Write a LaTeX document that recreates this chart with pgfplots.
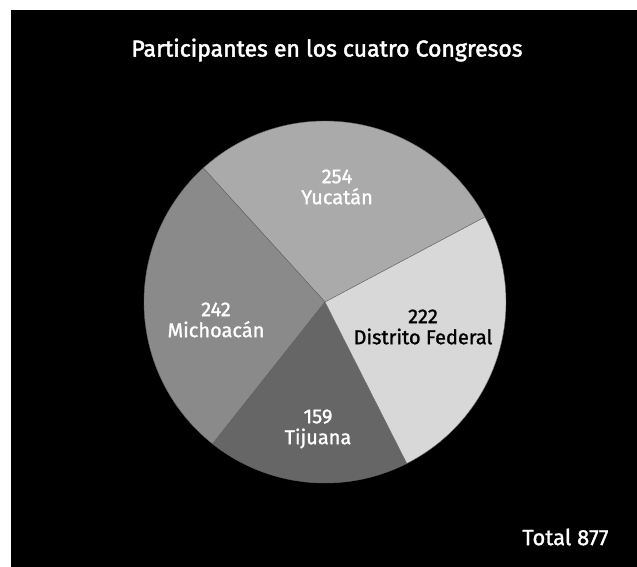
\documentclass[border=0pt]{standalone}
\usepackage{pgfplots}
\pgfplotsset{compat=1.18}
\usepackage{pgfplotstable}
\usepackage{fontspec}
\setmainfont{Fira Sans}[FakeBold=1.2]
\newfontfamily\medfont{Fira Sans}[FakeBold=1.3]
\newfontfamily\titfont{Fira Sans}[FakeBold=2]
\definecolor{cYuc}{HTML}{AAAAAA}
\definecolor{cMic}{HTML}{8A8A8A}
\definecolor{cTij}{HTML}{666666}
\definecolor{cDF}{HTML}{D8D8D8}
\pgfplotstableread{
name value
Yucatan 254
Michoacan 242
Tijuana 159
DF 222
}\data
\begin{document}
\begin{tikzpicture}
\pgfplotstablegetelem{0}{value}\of\data \let\vA\pgfplotsretval
\pgfplotstablegetelem{1}{value}\of\data \let\vB\pgfplotsretval
\pgfplotstablegetelem{2}{value}\of\data \let\vC\pgfplotsretval
\pgfplotstablegetelem{3}{value}\of\data \let\vD\pgfplotsretval
\pgfmathsetmacro\total{\vA+\vB+\vC+\vD}
\pgfmathsetmacro\aA{28}
\pgfmathsetmacro\aB{\aA+\vA/\total*360}
\pgfmathsetmacro\aC{\aB+\vB/\total*360}
\pgfmathsetmacro\aD{\aC+\vC/\total*360}
\pgfmathsetmacro\aE{\aD+\vD/\total*360}
\fill[white] (0,0) rectangle (637pt,567pt);
\begin{axis}[at={(0,0)}, anchor=south west, scale only axis, width=637pt, height=567pt,
  xmin=0, xmax=637, ymin=0, ymax=567, y dir=reverse, hide axis, clip=false]
\addplot[fill=black, draw=none] coordinates {(11,10) (637,10) (637,567) (11,567)} -- cycle;
\addplot[fill=cYuc, draw=black!60, line width=0.4pt, domain=\aA:\aB, samples=80, variable=\t]
  ({325+181*cos(t)},{302-181*sin(t)}) -- (axis cs:325,302) -- cycle;
\addplot[fill=cMic, draw=black!60, line width=0.4pt, domain=\aB:\aC, samples=80, variable=\t]
  ({325+181*cos(t)},{302-181*sin(t)}) -- (axis cs:325,302) -- cycle;
\addplot[fill=cTij, draw=black!60, line width=0.4pt, domain=\aC:\aD, samples=80, variable=\t]
  ({325+181*cos(t)},{302-181*sin(t)}) -- (axis cs:325,302) -- cycle;
\addplot[fill=cDF, draw=black!60, line width=0.4pt, domain=\aD:\aE, samples=80, variable=\t]
  ({325+181*cos(t)},{302-181*sin(t)}) -- (axis cs:325,302) -- cycle;
\node[white, font=\fontsize{23}{26}\selectfont\titfont] at (axis cs:327,50) {Participantes en los cuatro Congresos};
\node[white, font=\fontsize{20}{21}\selectfont\medfont, align=center] at (axis cs:337,187) {254\\Yucatán};
\node[white, font=\fontsize{20}{21}\selectfont\medfont, align=center] at (axis cs:216,320) {242\\Michoacán};
\node[black, font=\fontsize{20}{21}\selectfont\medfont, align=center] at (axis cs:423,327) {222\\Distrito Federal};
\node[white, font=\fontsize{20}{21}\selectfont\medfont, align=center] at (axis cs:318,429) {159\\Tijuana};
\node[white, font=\fontsize{22}{24}\selectfont\medfont, anchor=east] at (axis cs:612,537) {Total 877};
\end{axis}
\end{tikzpicture}
\end{document}
